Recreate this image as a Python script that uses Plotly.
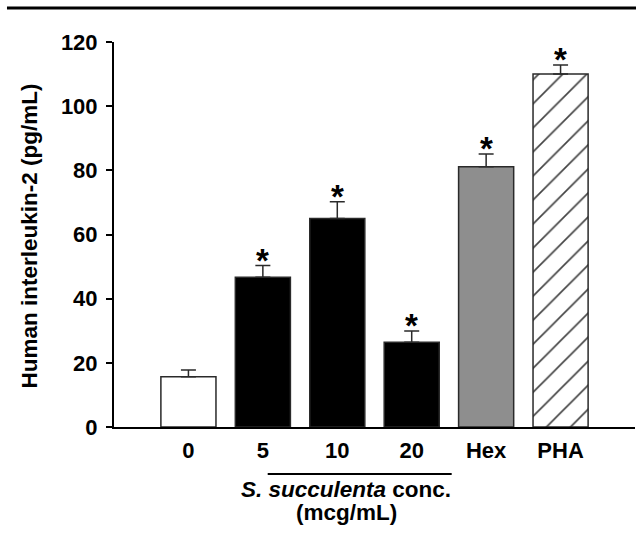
import plotly.graph_objects as go

categories = ["0", "5", "10", "20", "Hex", "PHA"]
values = [15.7, 46.7, 65.0, 26.4, 81.1, 110.0]
errors = [2.1, 3.6, 5.2, 3.5, 4.0, 2.8]
significant = [False, True, True, True, True, True]
y_ticks = [0, 20, 40, 60, 80, 100, 120]

FONT = "Liberation Sans, Arial, sans-serif"
x_pos = list(range(len(categories)))

fill_colors = ["white", "black", "black", "black", "#8e8e8e", "white"]
pattern_shapes = ["", "", "", "", "", "/"]

fig = go.Figure()
fig.add_trace(go.Bar(
    x=x_pos, y=values, width=0.74,
    marker=dict(
        color=fill_colors,
        line=dict(color="#2a2a2a", width=1.5),
        pattern=dict(shape=pattern_shapes, fgcolor="black", bgcolor="white",
                     fgopacity=1, size=17, solidity=0.1, fillmode="overlay"),
    ),
    error_y=dict(type="data", array=errors, arrayminus=[0] * len(errors),
                 symmetric=False, color="#2a2a2a", thickness=1.5, width=7.5),
    showlegend=False,
    hoverinfo="skip",
))

for xi, v, e, s in zip(x_pos, values, errors, significant):
    if s:
        fig.add_annotation(x=xi, y=v + e, xref="x", yref="y", text="<b>*</b>",
                           showarrow=False, yanchor="bottom", yshift=-15,
                           font=dict(family=FONT, size=33, color="black"))

fig.update_layout(
    width=636, height=536,
    margin=dict(l=114, r=1, t=42, b=109),
    paper_bgcolor="white", plot_bgcolor="white",
    font=dict(family=FONT, color="black"),
    bargap=0.26,
)
fig.update_xaxes(
    range=[-1, 6], tickvals=x_pos, ticktext=[f"<b>{c}</b>" for c in categories],
    showline=True, linecolor="black", linewidth=2, ticks="",
    tickfont=dict(family=FONT, size=22, color="black"),
    ticklabelstandoff=3,
    showgrid=False, zeroline=False, fixedrange=True,
)
fig.update_yaxes(
    range=[0, 120], tickvals=y_ticks, ticktext=[f"<b>{t}</b>" for t in y_ticks],
    showline=True, linecolor="black", linewidth=2,
    ticks="outside", ticklen=6, tickwidth=2, tickcolor="black",
    tickfont=dict(family=FONT, size=22, color="black"),
    ticklabelstandoff=4,
    showgrid=False, zeroline=False, fixedrange=True,
)

# y-axis title
fig.add_annotation(x=-0.163, y=0.495, xref="paper", yref="paper",
                   text="<b>Human interleukin-2 (pg/mL)</b>", textangle=-90,
                   showarrow=False, xanchor="center", yanchor="middle",
                   font=dict(family=FONT, size=22.5, color="black"))

# group line and label under 5-20
fig.add_shape(type="line", xref="x", yref="paper", x0=1.065, x1=3.537,
              y0=-0.122, y1=-0.122, line=dict(color="black", width=2))
fig.add_annotation(x=2.12, y=-0.163, xref="x", yref="paper",
                   text="<b><i>S. succulenta</i> conc.</b>", showarrow=False,
                   xanchor="center", yanchor="middle",
                   font=dict(family=FONT, size=22.5, color="black"))
fig.add_annotation(x=2.12, y=-0.222, xref="x", yref="paper",
                   text="<b>(mcg/mL)</b>", showarrow=False,
                   xanchor="center", yanchor="middle",
                   font=dict(family=FONT, size=22.5, color="black"))

# top rule line
fig.add_shape(type="line", xref="paper", yref="paper", x0=-0.2054, x1=1.002,
              y0=1.088, y1=1.088, line=dict(color="black", width=3))

fig.write_html("out.html", config={"displayModeBar": False},
               post_script="document.body.style.margin='0';")
